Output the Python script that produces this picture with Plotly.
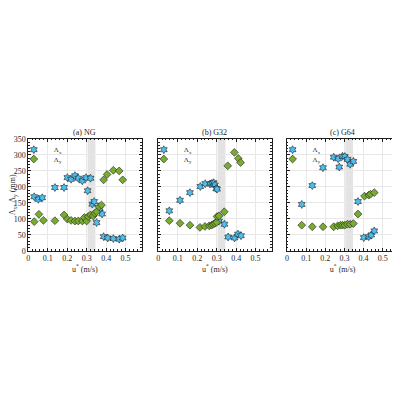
import plotly.graph_objects as go

# panel (a) NG
u_a_x = [0.031, 0.052, 0.072, 0.137, 0.184, 0.201, 0.220, 0.240, 0.257, 0.278, 0.297, 0.305,
         0.320, 0.329, 0.339, 0.351, 0.368, 0.379, 0.387, 0.408, 0.437, 0.467, 0.485]
lam_a_x = [169, 161, 166, 198, 198, 229, 224, 235, 227, 219, 229, 188,
           227, 146, 154, 88, 132, 115, 44, 40, 38, 36, 40]
u_a_y = [0.031, 0.055, 0.078, 0.137, 0.184, 0.201, 0.220, 0.240, 0.257, 0.278, 0.288, 0.300,
         0.308, 0.320, 0.334, 0.342, 0.351, 0.363, 0.376, 0.387, 0.405, 0.437, 0.467, 0.485]
lam_a_y = [91, 114, 95, 94, 112, 99, 95, 93, 93, 93, 104, 93,
           107, 112, 109, 117, 122, 138, 143, 222, 239, 252, 250, 222]

# panel (b) G32
u_b_x = [0.057, 0.112, 0.163, 0.216, 0.241, 0.266, 0.276, 0.285, 0.291, 0.298, 0.302,
         0.312, 0.340, 0.359, 0.392, 0.409, 0.425]
lam_b_x = [125, 158, 182, 201, 210, 209, 211, 213, 206, 195, 193,
           93, 83, 43, 40, 52, 47]
u_b_y = [0.057, 0.112, 0.163, 0.214, 0.240, 0.262, 0.274, 0.283, 0.291, 0.300, 0.302,
         0.312, 0.339, 0.357, 0.391, 0.411, 0.423]
lam_b_y = [94, 86, 80, 73, 76, 78, 80, 83, 86, 89, 107,
           109, 122, 266, 308, 289, 276]

# panel (c) G64
u_c_x = [0.077, 0.132, 0.188, 0.244, 0.267, 0.273, 0.290, 0.302, 0.316, 0.330, 0.347,
         0.371, 0.401, 0.427, 0.440, 0.456]
lam_c_x = [145, 204, 260, 293, 288, 262, 296, 295, 286, 271, 280,
           154, 41, 44, 49, 62]
u_c_y = [0.077, 0.132, 0.188, 0.244, 0.265, 0.279, 0.290, 0.302, 0.316, 0.330, 0.347,
         0.371, 0.405, 0.427, 0.436, 0.456]
lam_c_y = [80, 75, 75, 75, 78, 80, 80, 80, 83, 83, 85,
           115, 171, 174, 177, 182]

titles = ["(a) NG", "(b) G32", "(c) G64"]
band = [0.305, 0.345]

BLUE = "#4DBEEE"
GREEN = "#77AC30"
FONT = "Liberation Serif"
INK = "#1f1f1f"

# the page body adds 8px of margin, so pull everything up/left by that much
SHIFT = 8 / 400

panels = [
    (u_a_x, lam_a_x, u_a_y, lam_a_y),
    (u_b_x, lam_b_x, u_b_y, lam_b_y),
    (u_c_x, lam_c_x, u_c_y, lam_c_y),
]
domains = [[0.0705 - SHIFT, 0.354 - SHIFT],
           [0.3955 - SHIFT, 0.679 - SHIFT],
           [0.7175 - SHIFT, 0.996 - SHIFT]]
ydom = [0.37325 + SHIFT, 0.6525 + SHIFT]
leg_rows = [0.6258 + SHIFT, 0.6025 + SHIFT]   # legend row centres (paper)

fig = go.Figure()

for i, (ux, lx, uy, ly) in enumerate(panels):
    n = "" if i == 0 else str(i + 1)
    leg_x = "legend" + ("" if i == 0 else str(2 * i + 1))
    leg_y = "legend" + str(2 * i + 2)
    fig.add_trace(go.Scatter(
        x=ux, y=lx, mode="markers", name="Λ<sub>x</sub>",
        marker=dict(symbol="hexagram", size=6, color=BLUE, line=dict(color=INK, width=0.6)),
        xaxis="x" + n, yaxis="y" + n, legend=leg_x, showlegend=True,
    ))
    fig.add_trace(go.Scatter(
        x=uy, y=ly, mode="markers", name="Λ<sub>y</sub>",
        marker=dict(symbol="diamond", size=6, color=GREEN, line=dict(color=INK, width=0.6)),
        xaxis="x" + n, yaxis="y" + n, legend=leg_y, showlegend=True,
    ))

    fig.add_shape(type="rect", xref="x" + n, yref="y" + n + " domain",
                  x0=band[0], x1=band[1], y0=0, y1=1,
                  fillcolor="#e3e3e3", line_width=0, layer="below")

    axis_common = dict(
        showline=True, mirror="ticks", linecolor=INK, linewidth=0.7,
        ticks="inside", ticklen=3, tickcolor=INK, tickwidth=0.6,
        showgrid=True, gridcolor="#e8e8e8", gridwidth=0.6, zeroline=False,
        tickfont=dict(family=FONT, size=8, color=INK), automargin=False,
    )
    legend_common = dict(
        xanchor="left", yanchor="middle", bgcolor="rgba(0,0,0,0)",
        font=dict(family=FONT, size=7, color=INK), itemwidth=30,
        x=domains[i][0] - 0.036,
    )
    fig.update_layout({
        "xaxis" + n: dict(
            domain=domains[i], range=[0, 0.582], anchor="y" + n,
            tickvals=[0, 0.1, 0.2, 0.3, 0.4, 0.5],
            ticktext=["0", "0.1", "0.2", "0.3", "0.4", "0.5"],
            minor=dict(ticks="inside", ticklen=1.5, dtick=0.02, tick0=0, tickcolor=INK, showgrid=False),
            title=dict(text="u<sup>*</sup> (m/s)", font=dict(family=FONT, size=8, color=INK), standoff=2),
            **axis_common,
        ),
        "yaxis" + n: dict(
            domain=ydom, range=[0, 350], anchor="x" + n,
            tickvals=[0, 50, 100, 150, 200, 250, 300, 350],
            showticklabels=(i == 0),
            minor=dict(ticks="inside", ticklen=1.5, dtick=10, tick0=0, tickcolor=INK, showgrid=False),
            title=dict(text="Λ<sub>x</sub>, Λ<sub>y</sub> (mm)" if i == 0 else "",
                       font=dict(family=FONT, size=8, color=INK), standoff=10),
            **axis_common,
        ),
        leg_x: dict(y=leg_rows[0], **legend_common),
        leg_y: dict(y=leg_rows[1], **legend_common),
    })
    fig.add_annotation(
        text=titles[i], x=(domains[i][0] + domains[i][1]) / 2, y=ydom[1],
        xref="paper", yref="paper", xanchor="center", yanchor="bottom",
        showarrow=False, font=dict(family=FONT, size=8, color=INK),
    )

fig.update_layout(
    width=400, height=400, showlegend=True,
    margin=dict(l=0, r=0, t=0, b=0, autoexpand=False),
    paper_bgcolor="white", plot_bgcolor="white",
    font=dict(family=FONT, size=8, color=INK),
)

fig.write_html("out.html")
